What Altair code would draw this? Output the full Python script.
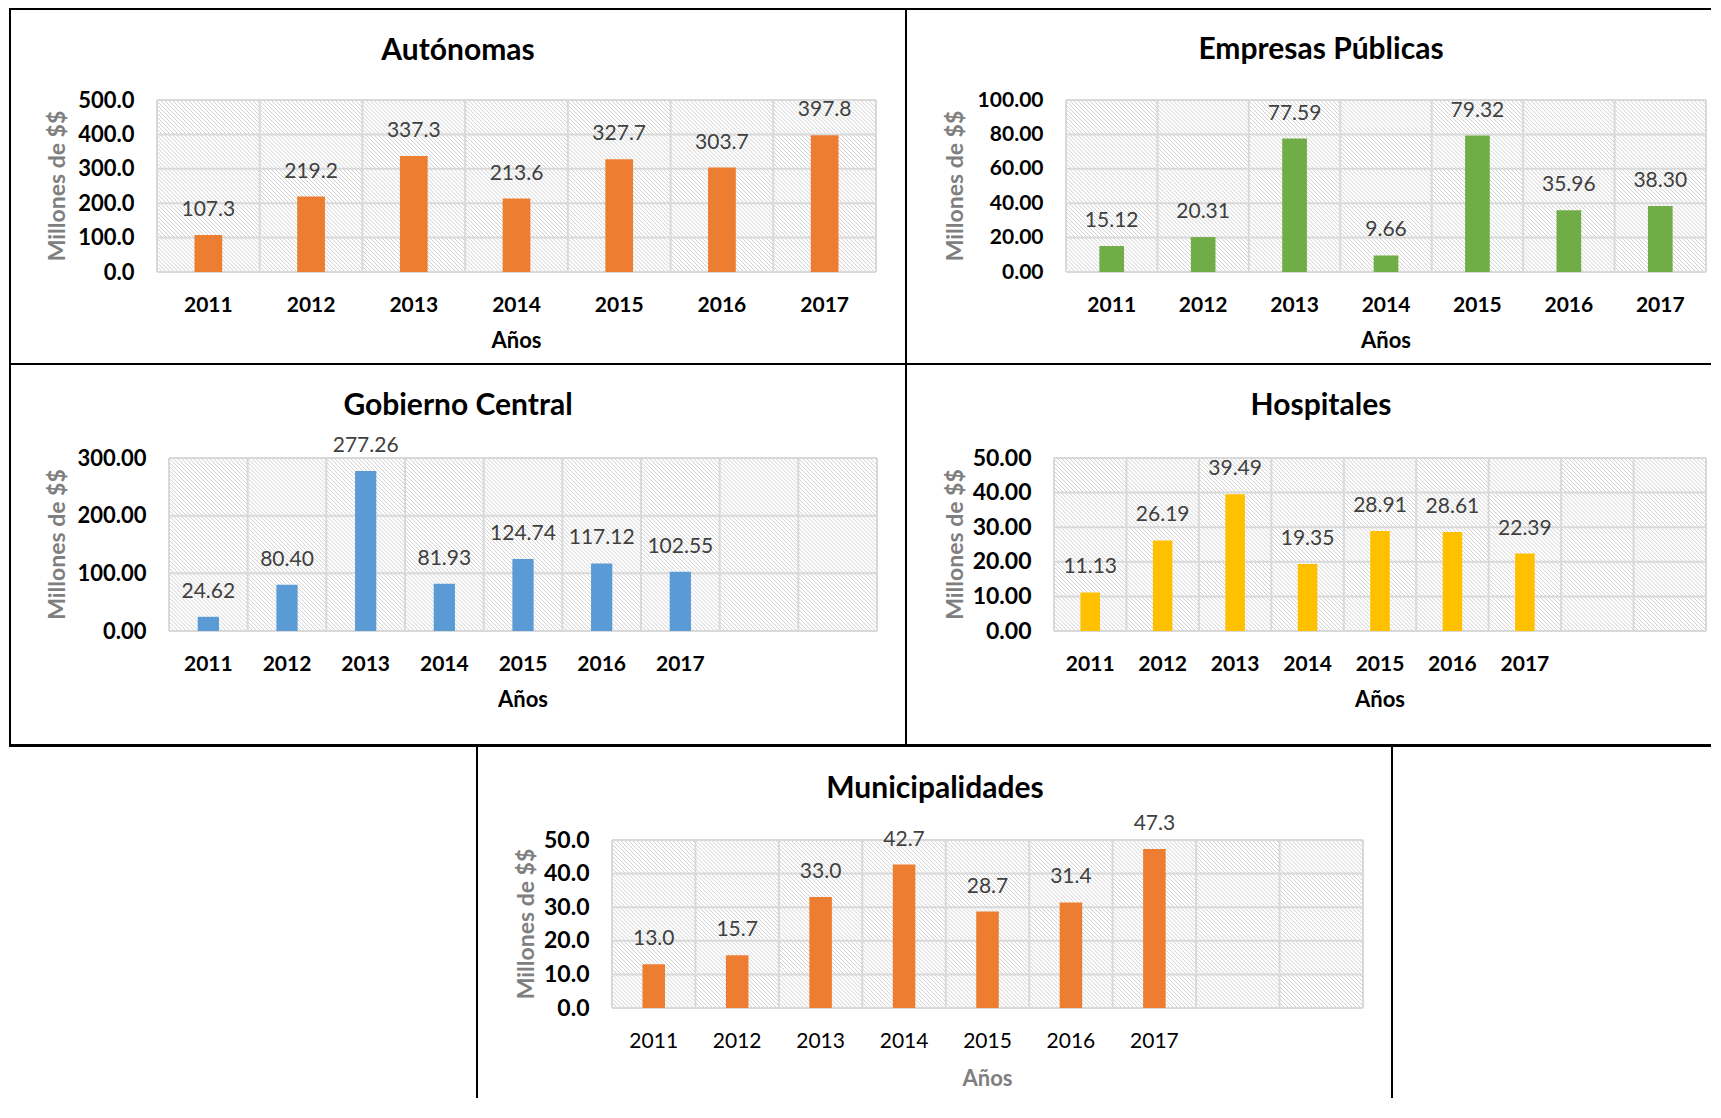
import altair as alt
import pandas as pd

# ---------------- data ----------------
years = ["2011", "2012", "2013", "2014", "2015", "2016", "2017"]
empty_slots = [" ", "  "]          # two empty category slots in the last three charts

autonomas = [107.3, 219.2, 337.3, 213.6, 327.7, 303.7, 397.8]
empresas = [15.12, 20.31, 77.59, 9.66, 79.32, 35.96, 38.30]
gobierno = [24.62, 80.40, 277.26, 81.93, 124.74, 117.12, 102.55]
hospitales = [11.13, 26.19, 39.49, 19.35, 28.91, 28.61, 22.39]
municipalidades = [13.0, 15.7, 33.0, 42.7, 28.7, 31.4, 47.3]

ticks_autonomas = [0, 100, 200, 300, 400, 500]
ticks_empresas = [0, 20, 40, 60, 80, 100]
ticks_gobierno = [0, 100, 200, 300]
ticks_hospitales = [0, 10, 20, 30, 40, 50]
ticks_municipalidades = [0, 10, 20, 30, 40, 50]

titles = ["Autónomas", "Empresas Públicas", "Gobierno Central", "Hospitales", "Municipalidades"]
y_title = "Millones de $$"
x_title = "Años"

# ---------------- style ----------------
FONT = "Lato"
GRID = "#d9d9d9"
HATCH = "#cfcfcf"
ORANGE = "#ED7D31"
GREEN = "#70AD47"
BLUE = "#5B9BD5"
YELLOW = "#FFC000"

one = pd.DataFrame({"k": [0]})


def hatch_fill(cw, ch, period=4):
    """diagonal hatch (\\\\) as a linear gradient for a cw x ch cell"""
    L = cw + ch
    k = L / (cw * cw + ch * ch)
    stops = [alt.GradientStop(color="white", offset=0)]
    i = 0
    while True:
        a = (period * i + 0.5) / L
        m = (period * i + 1.5) / L
        b = (period * i + 2.5) / L
        if b >= 1:
            break
        stops += [alt.GradientStop(color="white", offset=a),
                  alt.GradientStop(color=HATCH, offset=m),
                  alt.GradientStop(color="white", offset=b)]
        i += 1
    stops.append(alt.GradientStop(color="white", offset=1))
    return alt.LinearGradient(gradient="linear", stops=stops,
                              x1=0, y1=1, x2=k * cw, y2=1 - k * ch)


def bar_line(x1, x2, y1, y2):
    # frame line drawn as a thin filled rectangle (exact bounds, no stroke)
    return alt.Chart(one).mark_rect(color="black").encode(
        x=alt.value(x1), x2=alt.value(x2), y=alt.value(y1), y2=alt.value(y2))


def panel(title, cats, values, ticks, fmt, color, W, H, tx, ty, yx, frame,
          ylab_size=22, xlabel_weight="bold", xtitle_color="black", xtitle_dy=76):
    df = pd.DataFrame({"Año": cats[:len(values)], "Valor": values})
    gy = pd.DataFrame({"Valor": ticks})
    gx = pd.DataFrame({"Año": cats})
    cells = pd.DataFrame([{"Año": c, "lo": ticks[i], "hi": ticks[i + 1]}
                          for c in cats for i in range(len(ticks) - 1)])
    cw = W / len(cats)
    ch = H / (len(ticks) - 1)

    xs = alt.Scale(domain=cats, paddingInner=0, paddingOuter=0)
    ys = alt.Scale(domain=[ticks[0], ticks[-1]], nice=False, zero=True)
    xax = alt.Axis(title=None, labelAngle=0, labelFont=FONT, labelFontSize=21,
                   labelFontWeight=xlabel_weight, labelColor="black", labelPadding=22,
                   domain=False, ticks=False, grid=False)
    yax = alt.Axis(title=None, values=ticks, format=fmt, labelFont=FONT, labelFontSize=ylab_size,
                   labelFontWeight="bold", labelColor="black", labelPadding=23,
                   domain=False, ticks=False, grid=False)

    def X(**kw):
        return alt.X("Año:N", scale=xs, axis=xax, **kw)

    def Y(field="Valor"):
        return alt.Y(f"{field}:Q", scale=ys, axis=yax)

    layers = [
        alt.Chart(cells).mark_rect(fill=hatch_fill(cw, ch)).encode(
            x=X(), y=Y("lo"), y2="hi"),
        alt.Chart(gy).mark_rule(color=GRID, strokeWidth=2).encode(y=Y()),
        alt.Chart(gx).mark_rule(color=GRID, strokeWidth=2).encode(x=X(bandPosition=0)),
        alt.Chart(one).mark_rule(color=GRID, strokeWidth=2).encode(
            x=alt.value(W), x2=alt.value(W), y=alt.value(0), y2=alt.value(H)),
        alt.Chart(df).mark_bar(color=color, width=alt.RelativeBandSize(0.27)).encode(x=X(), y=Y()),
        alt.Chart(df).mark_text(font=FONT, fontSize=21, color="#404040",
                                baseline="alphabetic", dy=-19).encode(
            x=X(), y=Y(), text=alt.Text("Valor:Q", format=fmt)),
        alt.Chart(one).mark_text(font=FONT, fontSize=30, fontWeight="bold", color="black",
                                 baseline="alphabetic", align="center").encode(
            x=alt.value(tx), y=alt.value(ty), text=alt.value(title)),
        alt.Chart(one).mark_text(font=FONT, fontSize=23, fontWeight="bold", color="#7f7f7f",
                                 angle=270, baseline="middle", align="center").encode(
            x=alt.value(yx), y=alt.value(H / 2), text=alt.value(y_title)),
        alt.Chart(one).mark_text(font=FONT, fontSize=22, fontWeight="bold", color=xtitle_color,
                                 baseline="alphabetic", align="center").encode(
            x=alt.value(W / 2), y=alt.value(H + xtitle_dy), text=alt.value(x_title)),
    ]
    layers += frame
    return alt.layer(*layers).properties(width=W, height=H)


cats9 = years + empty_slots

# panel boxes (local coords relative to each plot area): lines drawn inside the box
p1 = panel(titles[0], years, autonomas, ticks_autonomas, ".1f", ORANGE, 719, 172, 301, -40, -99,
           [bar_line(-148, -146, -92, 264), bar_line(-148, 749, -92, -90),
            bar_line(748, 749, -92, 264), bar_line(-148, 749, 263, 264)],
           ylab_size=22)
p2 = panel(titles[1], years, empresas, ticks_empresas, ".2f", GREEN, 640, 172, 255, -41, -110,
           [bar_line(-160, -159, -92, 264), bar_line(-160, 645, -92, -90),
            bar_line(-160, 645, 263, 264)],
           ylab_size=21)
p3 = panel(titles[2], cats9, gobierno, ticks_gobierno, ".2f", BLUE, 708, 173, 289, -43, -111,
           [bar_line(-160, 737, -94, -93), bar_line(-160, -158, -94, 288),
            bar_line(736, 737, -94, 288), bar_line(-160, 737, 286, 289)],
           ylab_size=22)
p4 = panel(titles[3], cats9, hospitales, ticks_hospitales, ".2f", YELLOW, 652, 173, 267, -43, -98,
           [bar_line(-148, 657, -94, -93), bar_line(-148, -147, -94, 288),
            bar_line(-148, 657, 286, 289)],
           ylab_size=23)
p5 = panel(titles[4], cats9, municipalidades, ticks_municipalidades, ".1f", ORANGE, 751, 168, 323, -42, -85,
           [bar_line(-136, -134, -93, 258), bar_line(779, 781, -93, 258)],
           ylab_size=23, xlabel_weight="normal", xtitle_color="#7f7f7f", xtitle_dy=78)


def spacer(w):
    return alt.Chart(one).mark_rect(opacity=0).encode(
        x=alt.value(0), x2=alt.value(w), y=alt.value(0), y2=alt.value(1)
    ).properties(width=w, height=1)


row1 = alt.hconcat(spacer(0.01), p1, p2, spacing=0)
row2 = alt.hconcat(spacer(0.01), p3, p4, spacing=0)
row3 = alt.hconcat(spacer(468), p5, spacing=0)

chart = alt.vconcat(row1, row2, row3, spacing=0).properties(
    padding=0, background="white"
).configure(font=FONT).configure_view(strokeWidth=0)

chart.save("out.html", embed_options={"renderer": "svg", "actions": False})
